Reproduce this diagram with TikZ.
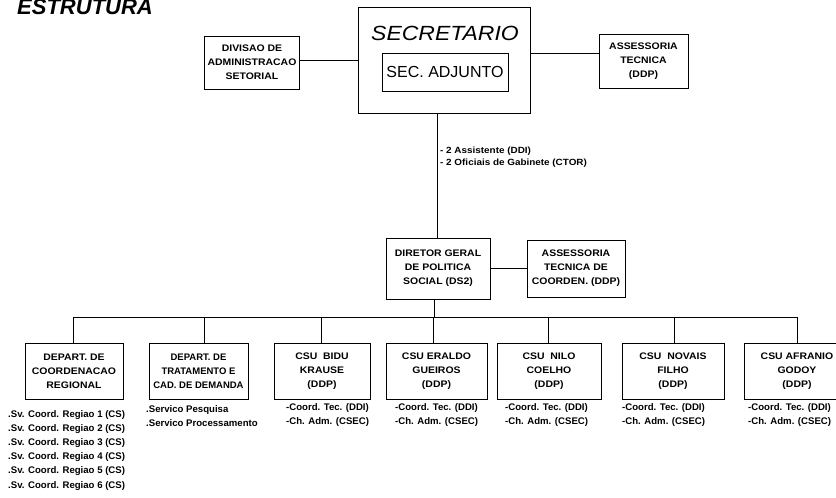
\documentclass[tikz,border=0pt]{standalone}
\usepackage{fontspec}
\setmainfont{Liberation Sans}
\newfontfamily\boxfont[FakeStretch=1.1]{Liberation Sans}
\newfontfamily\narrowboxfont[FakeStretch=1.0]{Liberation Sans}
\newfontfamily\headfont[FakeStretch=1.12]{Liberation Sans}
\newfontfamily\notefont[FakeStretch=1.1]{Liberation Sans}
\begin{document}
\begin{tikzpicture}[x=1pt,y=-1pt,
  box/.style={draw, line width=0.9pt, align=center, inner sep=0pt,
    font=\boxfont\bfseries\fontsize{9.5}{14}\selectfont},
  wire/.style={line width=0.8pt},
  list/.style={anchor=north west, align=left, inner sep=0pt,
    font=\bfseries\fontsize{9.6}{14.2}\selectfont},
  note/.style={anchor=north west, align=left, inner sep=0pt,
    font=\notefont\bfseries\fontsize{9}{11.5}\selectfont}]
\useasboundingbox (0,0) rectangle (836,498);
\clip (0,0) rectangle (836,498);

% title
\node[anchor=base west, inner sep=0pt, font=\bfseries\itshape\fontsize{22}{22}\selectfont]
  (title) at (17,14) {ESTRUTURA};

% top level
\node[box, minimum width=172pt, minimum height=106pt] (sec) at (444,60) {};
\node[inner sep=0pt, font=\headfont\itshape\fontsize{20.5}{20.5}\selectfont] (sectitle) at (445,33) {SECRETARIO};
\node[box, font=\fontsize{16}{16}\selectfont, minimum width=126pt, minimum height=38pt] (adj) at (445,72) {SEC. ADJUNTO};
\node[box, minimum width=95pt, minimum height=53pt] (div) at (252,62.5)
  {DIVISAO DE\\ADMINISTRACAO\\SETORIAL};
\node[box, minimum width=89pt, minimum height=54pt] (ast) at (643.5,61)
  {ASSESSORIA\\TECNICA\\(DDP)};

\coordinate (lefty) at (0,60);
\coordinate (righty) at (0,53);
\draw[wire] (div.east |- lefty) -- (sec.west |- lefty);
\draw[wire] (sec.east |- righty) -- (ast.west |- righty);

% second level
\node[box, minimum width=104pt, minimum height=61pt] (dir) at (438,268.5)
  {DIRETOR GERAL\\DE POLITICA\\SOCIAL (DS2)};
\node[box, minimum width=98pt, minimum height=57pt] (astc) at (576,268.5)
  {ASSESSORIA\\TECNICA DE\\COORDEN. (DDP)};
\draw[wire] (dir.east) -- (astc.west);

\coordinate (secdrop) at (437,0);
\draw[wire] (sec.south -| secdrop) -- (dir.north -| secdrop);
\node[note] (staff) at (440,147)
  {- 2 Assistente (DDI)\\- 2 Oficiais de Gabinete (CTOR)};

% third level
\tikzset{lower/.style={box, minimum height=56pt}}
\node[lower, minimum width=98pt] (b1) at (74,371) {DEPART. DE\\COORDENACAO\\REGIONAL};
\node[lower, minimum width=99pt, font=\narrowboxfont\bfseries\fontsize{9.5}{14}\selectfont]
  (b2) at (198.5,371) {DEPART. DE\\TRATAMENTO E\\CAD. DE DEMANDA};
\node[lower, minimum width=96pt] (b3) at (322,371) {CSU\ \ BIDU\\KRAUSE\\(DDP)};
\node[lower, minimum width=101pt] (b4) at (436.5,371) {CSU ERALDO\\GUEIROS\\(DDP)};
\node[lower, minimum width=104pt] (b5) at (549,371) {CSU\ \ NILO\\COELHO\\(DDP)};
\node[lower, minimum width=102pt] (b6) at (673,371) {CSU\ \ NOVAIS\\FILHO\\(DDP)};
\node[lower, minimum width=106pt] (b7) at (797,371) {CSU AFRANIO\\GODOY\\(DDP)};

\coordinate (bus) at (0,317);
\draw[wire] (dir.south -| 434,0) -- (434,317);
\draw[wire] (b1.north -| 73,0) |- (bus -| b7.north) -- (b7.north);
\foreach \n/\x in {b2/204, b3/321, b4/433, b5/548, b6/674}
  \draw[wire] (\x,317) -- (\n.north -| \x,0);

% sub-units
\node[list] (l1) at (8,410)
  {.Sv. Coord. Regiao 1 (CS)\\.Sv. Coord. Regiao 2 (CS)\\.Sv. Coord. Regiao 3 (CS)\\
   .Sv. Coord. Regiao 4 (CS)\\.Sv. Coord. Regiao 5 (CS)\\.Sv. Coord. Regiao 6 (CS)};
\node[list] (l2) at (146,405) {.Servico Pesquisa\\.Servico Processamento};
\foreach \n/\x in {l3/286, l4/395, l5/505, l6/622, l7/748}
  \node[list] (\n) at (\x,403) {-Coord. Tec. (DDI)\\-Ch. Adm. (CSEC)};
\end{tikzpicture}
\end{document}
